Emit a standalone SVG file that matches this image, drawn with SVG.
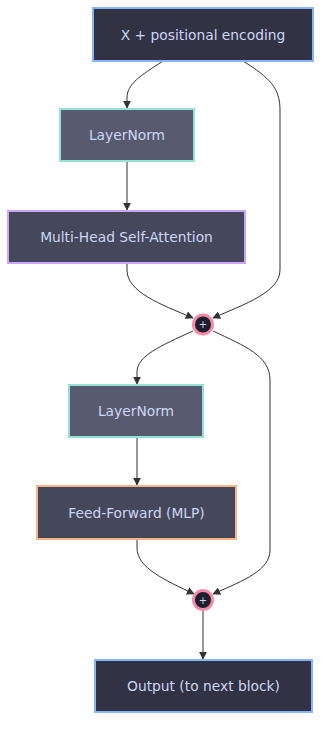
<svg xmlns="http://www.w3.org/2000/svg" width="330" height="737" viewBox="0 0 330 737">
<style>
.lbl{font-family:"DejaVu Sans",Verdana,sans-serif;font-size:13.8px;fill:#cdd6f4;text-anchor:middle;dominant-baseline:central}
.e{fill:none;stroke:#333;stroke-width:1}
.n{stroke-width:2}
</style>
<defs>
<marker id="ah" viewBox="0 0 10 10" refX="9" refY="5" markerWidth="8" markerHeight="8" markerUnits="userSpaceOnUse" orient="auto">
<path d="M0,0L10,5L0,10z" fill="#333"/>
</marker>
</defs>
<rect width="330" height="737" fill="#fff"/>
<g id="edges">
<path class="e" marker-end="url(#ah)" d="M163,61 C140,76 127,84 127,98 L127,108"/>
<path class="e" marker-end="url(#ah)" d="M127,161 L127,210"/>
<path class="e" marker-end="url(#ah)" d="M243,61 C270,78 280,88 280,110 L280,270 C280,292 245,304 213,318"/>
<path class="e" marker-end="url(#ah)" d="M127,263 L127,270 C127,292 160,304 193,318"/>
<path class="e" marker-end="url(#ah)" d="M193,331 C160,346 137,356 137,372 L137,384"/>
<path class="e" marker-end="url(#ah)" d="M213,331 C245,346 270,356 270,380 L270,550 C270,570 245,580 213,594"/>
<path class="e" marker-end="url(#ah)" d="M137,437 L137,485"/>
<path class="e" marker-end="url(#ah)" d="M137,539 L137,548 C137,568 165,580 194,594"/>
<path class="e" marker-end="url(#ah)" d="M203,611 L203,659"/>
</g>
<g id="n1"><rect class="n" x="93" y="8" width="220" height="53" fill="#313244" stroke="#89b4fa"/><text class="lbl" x="203" y="34.5">X + positional encoding</text></g>
<g id="n2"><rect class="n" x="60" y="109" width="134" height="52" fill="#585b70" stroke="#94e2d5"/><text class="lbl" x="127" y="135">LayerNorm</text></g>
<g id="n3"><rect class="n" x="8" y="211" width="237" height="52" fill="#45475a" stroke="#cba6f7"/><text class="lbl" x="126.5" y="237">Multi-Head Self-Attention</text></g>
<g id="add1"><circle cx="203" cy="324.5" r="9.5" fill="#1e1e2e" stroke="#f38ba8" stroke-width="3"/><text class="lbl" x="203" y="324.5" style="font-size:10px">+</text></g>
<g id="n4"><rect class="n" x="69" y="385" width="134" height="52" fill="#585b70" stroke="#94e2d5"/><text class="lbl" x="136" y="411">LayerNorm</text></g>
<g id="n5"><rect class="n" x="37" y="486" width="199" height="53" fill="#45475a" stroke="#fab387"/><text class="lbl" x="136.5" y="512.5">Feed-Forward (MLP)</text></g>
<g id="add2"><circle cx="203" cy="600" r="9.5" fill="#1e1e2e" stroke="#f38ba8" stroke-width="3"/><text class="lbl" x="203" y="600" style="font-size:10px">+</text></g>
<g id="n6"><rect class="n" x="95" y="660" width="217" height="52" fill="#313244" stroke="#89b4fa"/><text class="lbl" x="203.5" y="686">Output (to next block)</text></g>
</svg>
